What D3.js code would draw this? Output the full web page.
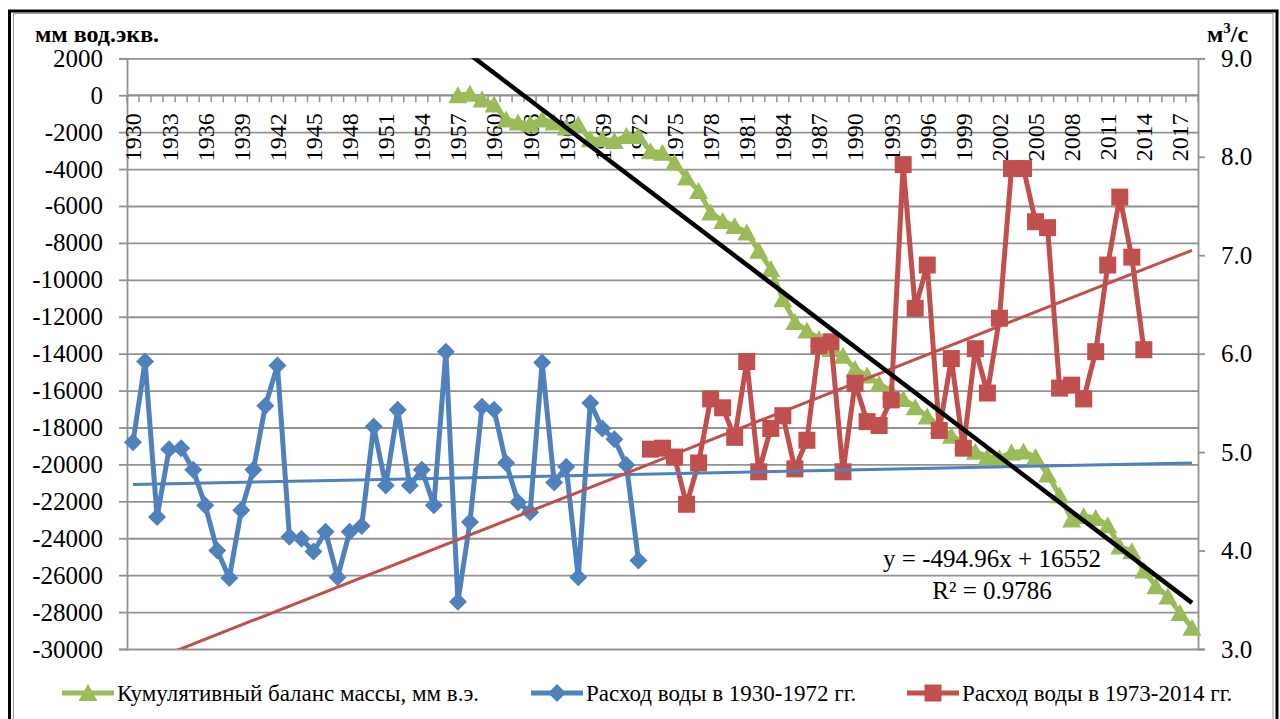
<!DOCTYPE html>
<html>
<head>
<meta charset="utf-8">
<script src="https://cdn.jsdelivr.net/npm/d3@7"></script>
<style>
  html, body { margin: 0; padding: 0; background: #fff; }
  svg { font-family: "Liberation Serif", "Times New Roman", serif; }
  svg text { font-family: "Liberation Serif", "Times New Roman", serif; fill: #000; }
</style>
</head>
<body>
<div id="chart"></div>
<script>
// Categories (years on the x axis)
const years = d3.range(1930, 2019);
const tickYears = years.filter((y, i) => i % 3 === 0);

// Cumulative mass balance, mm w.e. (left axis), 1957-2018
const massYears = d3.range(1957, 2019);
const massBalance = [
    0, 80, -230, -500, -1310, -1480, -1550, -1310, -1480, -1750,
    -1590, -2390, -2390, -2480, -2210, -2210, -3030, -3110, -3650, -4460,
    -5190, -6360, -6810, -7090, -7440, -8430, -9420, -11050, -12290, -12750,
    -13200, -13750, -14110, -14830, -15190, -15640, -16000, -16450, -16900, -17400,
    -17900, -18450, -18800, -19310, -19580, -19650, -19350, -19300, -19600, -20550,
    -21670, -22980, -22800, -22900, -23300, -24450, -24700, -25750, -26600, -27150,
    -28050, -28850
];

// Water discharge, m3/s (right axis)
const flowEarlyYears = d3.range(1930, 1973);
const flowEarly = [
    5.10, 5.92, 4.34, 5.03, 5.04, 4.82, 4.46, 4.00, 3.72, 4.41,
    4.82, 5.47, 5.88, 4.14, 4.12, 3.99, 4.19, 3.73, 4.19, 4.25,
    5.26, 4.66, 5.43, 4.66, 4.82, 4.46, 6.02, 3.48, 4.29, 5.46,
    5.43, 4.89, 4.49, 4.39, 5.91, 4.69, 4.85, 3.73, 5.50, 5.24,
    5.13, 4.87, 3.90
];
const flowLateYears = d3.range(1973, 2015);
const flowLate = [
    5.03, 5.04, 4.95, 4.47, 4.89, 5.54, 5.45, 5.15, 5.92, 4.80,
    5.24, 5.37, 4.83, 5.12, 6.08, 6.12, 4.80, 5.70, 5.31, 5.27,
    5.53, 7.92, 6.46, 6.90, 5.22, 5.95, 5.04, 6.05, 5.60, 6.36,
    7.88, 7.88, 7.34, 7.28, 5.65, 5.68, 5.54, 6.02, 6.90, 7.59,
    6.98, 6.04
];

// Trend lines
const massTrend = [-494.96, 16552];          // slope, intercept (x = category number)
const trendEnds = [1930, 2018];
const flowEarlyTrend = [4.67, 4.89];         // values at trendEnds
const flowLateTrend = [2.81, 7.05];

const leftTicks = d3.range(-30000, 2001, 2000);
const rightTicks = [3, 4, 5, 6, 7, 8, 9];

const colors = { mass: '#9BBB59', early: '#4F81BD', late: '#C0504D', grid: '#929292' };
const serif = '"Liberation Serif", "Times New Roman", serif';

function drawChart() {
    const W = 1280, H = 719;
    const plot = { left: 127, right: 1198, top: 58.3, bottom: 649 };

    const svg = d3.select('#chart').append('svg')
        .attr('width', W)
        .attr('height', H)
        .style('font-family', serif);

    // Outer frame
    svg.append('rect')
        .attr('x', 9.5).attr('y', 11)
        .attr('width', 1267.5).attr('height', 730)
        .attr('fill', 'none')
        .attr('stroke', '#000')
        .attr('stroke-width', 3);
    svg.append('rect')
        .attr('x', 13.5).attr('y', 13.5)
        .attr('width', 1259.5).attr('height', 730)
        .attr('fill', 'none')
        .attr('stroke', '#9a9a9a')
        .attr('stroke-width', 1);

    const x = d3.scaleBand()
        .domain(years)
        .range([plot.left, plot.right])
        .padding(0);
    const cx = yr => x(yr) + x.bandwidth() / 2;

    const yLeft = d3.scaleLinear()
        .domain([-30000, 2000])
        .range([plot.bottom, plot.top]);
    const yRight = d3.scaleLinear()
        .domain([3, 9])
        .range([plot.bottom, plot.top]);

    // Grid
    svg.append('g')
        .attr('transform', `translate(${plot.left},0)`)
        .call(d3.axisLeft(yLeft)
            .tickValues(leftTicks)
            .tickSize(-(plot.right - plot.left))
            .tickFormat(''))
        .call(g => g.select('.domain').remove())
        .selectAll('line')
        .attr('stroke', colors.grid)
        .attr('stroke-width', 1.8);

    // Left axis
    const axL = svg.append('g')
        .attr('transform', `translate(${plot.left},0)`)
        .call(d3.axisLeft(yLeft)
            .tickValues(leftTicks)
            .tickSize(8)
            .tickPadding(16)
            .tickFormat(d => String(d)))
        .attr('font-family', serif);
    axL.select('.domain').attr('stroke', colors.grid).attr('stroke-width', 1.8);
    axL.selectAll('line').attr('stroke', colors.grid).attr('stroke-width', 1.8);
    axL.selectAll('text')
        .style('font-size', '25px')
        .style('font-family', serif);

    // Right axis
    const axR = svg.append('g')
        .attr('transform', `translate(${plot.right},0)`)
        .call(d3.axisRight(yRight)
            .tickValues(rightTicks)
            .tickSize(7)
            .tickPadding(16)
            .tickFormat(d3.format('.1f')))
        .attr('font-family', serif);
    axR.select('.domain').attr('stroke', colors.grid).attr('stroke-width', 1.8);
    axR.selectAll('line').attr('stroke', colors.grid).attr('stroke-width', 1.8);
    axR.selectAll('text')
        .style('font-size', '25px')
        .style('font-family', serif);

    // Category axis crossing at 0
    const y0 = yLeft(0);
    const axX = svg.append('g')
        .attr('transform', `translate(0,${y0})`);
    axX.append('line')
        .attr('x1', plot.left).attr('x2', plot.right)
        .attr('stroke', colors.grid).attr('stroke-width', 1.8);
    axX.selectAll('.cat-tick')
        .data(years.concat(['end']))
        .enter()
        .append('line')
        .attr('class', 'cat-tick')
        .attr('x1', d => d === 'end' ? plot.right : x(d))
        .attr('x2', d => d === 'end' ? plot.right : x(d))
        .attr('y1', 0).attr('y2', 7)
        .attr('stroke', colors.grid).attr('stroke-width', 1.5);
    axX.selectAll('.cat-label')
        .data(tickYears)
        .enter()
        .append('text')
        .attr('class', 'cat-label')
        .attr('transform', d => `translate(${cx(d)},18) rotate(-90)`)
        .attr('dy', '0.35em')
        .attr('text-anchor', 'end')
        .style('font-size', '24px')
        .style('font-family', serif)
        .text(d => d);

    // Axis titles
    svg.append('text')
        .attr('x', 35).attr('y', 42)
        .style('font-size', '24px')
        .style('font-weight', 'bold')
        .style('font-family', serif)
        .text('мм вод.экв.');
    const unit = svg.append('text')
        .attr('x', 1207).attr('y', 42)
        .style('font-size', '24px')
        .style('font-weight', 'bold')
        .style('font-family', serif);
    unit.append('tspan').text('м');
    unit.append('tspan').attr('dy', -9).style('font-size', '15px').text('3');
    unit.append('tspan').attr('dy', 9).text('/с');

    // Clip to plot area
    svg.append('clipPath').attr('id', 'plot-clip')
        .append('rect')
        .attr('x', plot.left).attr('y', plot.top)
        .attr('width', plot.right - plot.left)
        .attr('height', plot.bottom - plot.top);

    const markers = {
        triangle: 'M0,-9L9.5,8L-9.5,8Z',
        diamond: 'M0,-9L9,0L0,9L-9,0Z',
        square: 'M-8.5,-8.5H8.5V8.5H-8.5Z'
    };

    function series(yrs, vals, yScale, color, marker) {
        const pts = yrs.map((yr, i) => ({ yr, v: vals[i] }));
        const g = svg.append('g');
        g.append('path')
            .datum(pts)
            .attr('d', d3.line().x(d => cx(d.yr)).y(d => yScale(d.v)))
            .attr('fill', 'none')
            .attr('stroke', color)
            .attr('stroke-width', 5)
            .attr('stroke-linejoin', 'round');
        g.selectAll('path.m')
            .data(pts)
            .enter()
            .append('path')
            .attr('class', 'm')
            .attr('d', markers[marker])
            .attr('transform', d => `translate(${cx(d.yr)},${yScale(d.v)})`)
            .attr('fill', color);
    }

    series(massYears, massBalance, yLeft, colors.mass, 'triangle');
    series(flowEarlyYears, flowEarly, yRight, colors.early, 'diamond');
    series(flowLateYears, flowLate, yRight, colors.late, 'square');

    // Trend lines
    const trends = svg.append('g').attr('clip-path', 'url(#plot-clip)');
    trends.append('line')
        .attr('x1', cx(trendEnds[0])).attr('x2', cx(trendEnds[1]))
        .attr('y1', yRight(flowEarlyTrend[0])).attr('y2', yRight(flowEarlyTrend[1]))
        .attr('stroke', colors.early).attr('stroke-width', 3);
    trends.append('line')
        .attr('x1', cx(trendEnds[0])).attr('x2', cx(trendEnds[1]))
        .attr('y1', yRight(flowLateTrend[0])).attr('y2', yRight(flowLateTrend[1]))
        .attr('stroke', colors.late).attr('stroke-width', 3);
    const massAt = yr => massTrend[0] * (years.indexOf(yr) + 1) + massTrend[1];
    trends.append('line')
        .attr('x1', cx(trendEnds[0])).attr('x2', cx(trendEnds[1]))
        .attr('y1', yLeft(massAt(trendEnds[0]))).attr('y2', yLeft(massAt(trendEnds[1])))
        .attr('stroke', '#000').attr('stroke-width', 4.5);

    // Trend equation
    svg.append('text')
        .attr('x', 992).attr('y', 567)
        .attr('text-anchor', 'middle')
        .style('font-size', '25px')
        .style('font-family', serif)
        .text('y = -494.96x + 16552');
    svg.append('text')
        .attr('x', 992).attr('y', 599)
        .attr('text-anchor', 'middle')
        .style('font-size', '25px')
        .style('font-family', serif)
        .text('R² = 0.9786');

    // Legend
    const legendItems = [
        { label: 'Кумулятивный баланс массы, мм в.э.', color: colors.mass, marker: 'triangle', x: 62 },
        { label: 'Расход воды в 1930-1972 гг.', color: colors.early, marker: 'diamond', x: 531 },
        { label: 'Расход воды в 1973-2014 гг.', color: colors.late, marker: 'square', x: 907 }
    ];
    const ly = 693;
    const legend = svg.append('g');
    legendItems.forEach(item => {
        const g = legend.append('g').attr('transform', `translate(${item.x},${ly})`);
        g.append('line')
            .attr('x1', 0).attr('x2', 52)
            .attr('stroke', item.color).attr('stroke-width', 5);
        g.append('path')
            .attr('d', markers[item.marker])
            .attr('transform', 'translate(26,0)')
            .attr('fill', item.color);
        g.append('text')
            .attr('x', 55).attr('dy', '0.35em')
            .style('font-size', '23px')
            .style('font-family', serif)
            .text(item.label);
    });
}

drawChart();
</script>
</body>
</html>
